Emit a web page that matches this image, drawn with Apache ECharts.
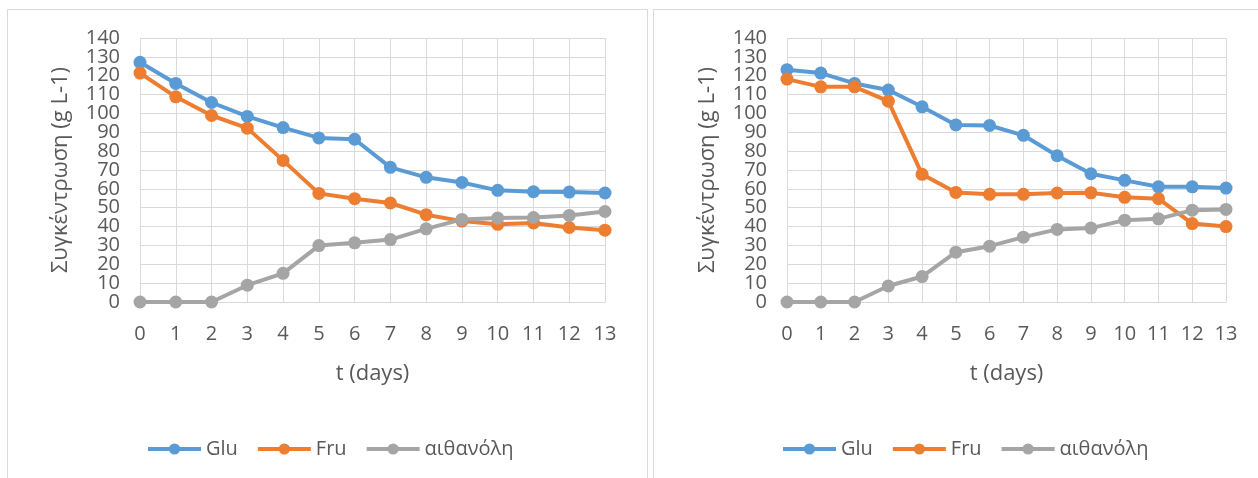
<!DOCTYPE html>
<html>
<head>
<meta charset="utf-8">
<title>Συγκέντρωση σακχάρων και αιθανόλης</title>
<script src="https://cdn.jsdelivr.net/npm/echarts@6/dist/echarts.min.js"></script>
<style>
  html, body { margin: 0; padding: 0; background: #ffffff; }
  #chart { width: 1258px; height: 478px; }
</style>
</head>
<body>
<div id="chart"></div>
<script>
// Fermentation time (days)
const days = ['0', '1', '2', '3', '4', '5', '6', '7', '8', '9', '10', '11', '12', '13'];
const seriesNames = ['Glu', 'Fru', 'αιθανόλη'];

// First run (left panel), g L-1
const gluA = [127.1, 115.9, 105.8, 98.4, 92.5, 87.0, 86.3, 71.4, 66.1, 63.4, 59.2, 58.5, 58.3, 57.8];
const fruA = [121.4, 108.8, 98.9, 92.2, 75.1, 57.6, 54.8, 52.5, 46.3, 42.9, 41.2, 41.9, 39.5, 38.1];
const ethA = [0, 0, 0, 8.9, 15.2, 29.9, 31.4, 33.1, 38.8, 43.8, 44.5, 44.8, 45.9, 48.0];

// Second run (right panel), g L-1
const gluB = [123.2, 121.4, 115.9, 112.4, 103.5, 93.9, 93.6, 88.4, 77.6, 68.0, 64.5, 61.1, 61.1, 60.4];
const fruB = [118.2, 114.1, 114.1, 106.5, 67.7, 58.1, 57.1, 57.1, 57.8, 57.9, 55.5, 54.8, 41.6, 40.0];
const ethB = [0, 0, 0, 8.5, 13.5, 26.4, 29.6, 34.4, 38.5, 39.2, 43.4, 44.1, 48.7, 49.1];

// Concentration axis range
const yMin = 0, yMax = 140, yStep = 10;

const colors = ['#5B9BD5', '#ED7D31', '#A5A5A5'];
const FONT = '"Open Sans", "Noto Sans", sans-serif';
const TEXT = '#595959';
const GRID = '#d9d9d9';

function xAxis(gridIndex) {
  return {
    type: 'category',
    gridIndex: gridIndex,
    data: days,
    boundaryGap: false,
    name: 't (days)',
    nameLocation: 'middle',
    nameGap: 61,
    nameTextStyle: { color: TEXT, fontFamily: FONT, fontSize: 22 },
    axisLine: { show: true, lineStyle: { color: GRID, width: 1 } },
    axisTick: { show: false },
    axisLabel: { color: TEXT, fontFamily: FONT, fontSize: 20, margin: 22, interval: 0,
                 showMinLabel: true, showMaxLabel: true },
    splitLine: { show: true, lineStyle: { color: GRID, width: 1 } }
  };
}

// The labels are stacked so tightly that the library would drop some of them,
// so each panel gets two coincident value axes: one labels the multiples of 20,
// the other the values in between.
function yAxis(gridIndex, odd) {
  return {
    type: 'value',
    gridIndex: gridIndex,
    position: 'left',
    offset: 0,
    min: yMin,
    max: yMax,
    interval: yStep,
    name: odd ? '' : 'Συγκέντρωση (g L-1)',
    nameLocation: 'middle',
    nameGap: 68,
    nameTextStyle: { color: TEXT, fontFamily: FONT, fontSize: 22 },
    axisLine: { show: false },
    axisTick: { show: false },
    axisLabel: {
      color: TEXT, fontFamily: FONT, fontSize: 20, margin: 20,
      showMinLabel: true, showMaxLabel: true, hideOverlap: false,
      formatter: function (v) {
        const isOdd = Math.round(v / yStep) % 2 === 1;
        return isOdd === odd ? String(v) : '';
      }
    },
    splitLine: { show: !odd, lineStyle: { color: GRID, width: 1 } }
  };
}

function lineSeries(name, data, idx, xIndex, yIndex) {
  return {
    name: name,
    type: 'line',
    data: data,
    xAxisIndex: xIndex,
    yAxisIndex: yIndex,
    symbol: 'circle',
    symbolSize: 13,
    showSymbol: true,
    color: colors[idx],
    lineStyle: { color: colors[idx], width: 4 },
    itemStyle: { color: colors[idx] },
    emphasis: { disabled: true },
    animation: false
  };
}

function legend(left) {
  return {
    left: left,
    top: 434,
    data: seriesNames,
    itemWidth: 53,
    itemHeight: 14,
    itemGap: 18,
    lineStyle: { width: 4 },
    textStyle: { color: TEXT, fontFamily: FONT, fontSize: 20 }
  };
}

const chart = echarts.init(document.getElementById('chart'), null, { renderer: 'canvas' });

chart.setOption({
  backgroundColor: '#ffffff',
  animation: false,
  textStyle: { fontFamily: FONT },
  graphic: [
    { type: 'rect', silent: true, shape: { x: 7.5, y: 9.5, width: 640, height: 500 },
      style: { fill: 'none', stroke: GRID, lineWidth: 1 } },
    { type: 'rect', silent: true, shape: { x: 653.5, y: 9.5, width: 640, height: 500 },
      style: { fill: 'none', stroke: GRID, lineWidth: 1 } }
  ],
  grid: [
    { left: 140, top: 38, width: 465, height: 264 },
    { left: 787, top: 38, width: 439, height: 264 }
  ],
  legend: [legend(141), legend(776)],
  xAxis: [xAxis(0), xAxis(1)],
  yAxis: [yAxis(0, false), yAxis(0, true), yAxis(1, false), yAxis(1, true)],
  series: [
    lineSeries('Glu', gluA, 0, 0, 0),
    lineSeries('Fru', fruA, 1, 0, 0),
    lineSeries('αιθανόλη', ethA, 2, 0, 0),
    lineSeries('Glu', gluB, 0, 1, 2),
    lineSeries('Fru', fruB, 1, 1, 2),
    lineSeries('αιθανόλη', ethB, 2, 1, 2)
  ]
});
</script>
</body>
</html>
